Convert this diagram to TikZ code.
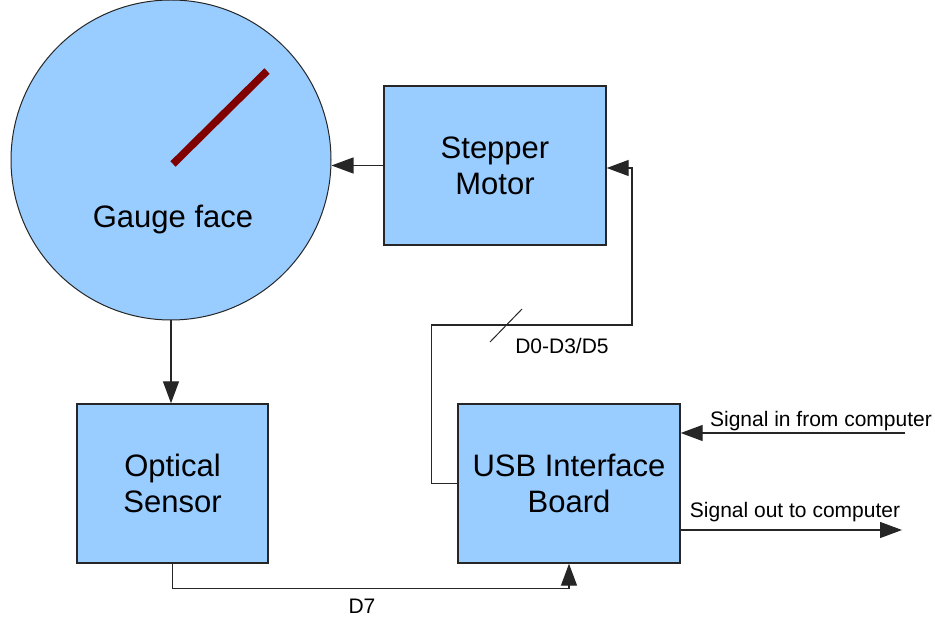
\documentclass[tikz,border=0pt]{standalone}
\usepackage{fontspec}
\setmainfont{Liberation Sans}
\usetikzlibrary{arrows.meta,calc}
\definecolor{boxblue}{HTML}{99CCFF}
\definecolor{needle}{HTML}{800000}
\tikzset{
  block/.style={draw=black!85, line width=1.4pt, fill=boxblue, rectangle,
    inner sep=0pt, align=center, font=\fontsize{31}{36}\selectfont},
  wire/.style={draw=black!85, line width=1.3pt},
  arr/.style={wire, -{Triangle[length=22pt,width=16pt]}},
  lbl/.style={font=\fontsize{21}{24}\selectfont, inner sep=0pt}
}
\begin{document}
\begin{tikzpicture}[x=1pt,y=-1pt]
  \useasboundingbox (0,0) rectangle (935,617);

  % gauge dial with needle
  \node[draw=black!85, line width=1pt, fill=boxblue, circle, minimum size=320pt, inner sep=0pt] (gauge) at (171,160) {};
  \draw[needle, line width=7.5pt] (173,164) -- (267,71);
  \node[font=\fontsize{31}{36}\selectfont, inner sep=0pt] (gaugetxt) at (173,220) {Gauge face};

  % blocks
  \node[block, minimum width=222pt, minimum height=159pt] (stepper) at (495,165.5) {Stepper\\Motor};
  \node[block, minimum width=191pt, minimum height=159pt] (optical) at (172.5,483.5) {Optical\\Sensor};
  \node[block, minimum width=222pt, minimum height=159pt] (usb) at (569,483.5) {USB Interface\\Board};

  % stepper drives the gauge
  \draw[arr] (stepper.west) -- (stepper.west -| gauge.east);

  % gauge seen by the optical sensor
  \draw[arr] (gauge.south) -- (gauge.south |- optical.north);

  % data bus from the USB board to the stepper
  \coordinate (busR) at (632,325);
  \draw[arr] (usb.west) -- ++(-26,0) |- (busR) |- ($(stepper.east)+(0,2.5)$);
  \coordinate (slash) at (506,325.5);
  \draw[wire, line width=1pt] ($(slash)+(-16,16.5)$) -- ($(slash)+(16,-16.5)$);
  \node[lbl] (buslbl) at (562,346) {D0-D3/D5};

  % sensor output D7
  \draw[arr] (optical.south) -- ++(0,25) -| (usb.south);
  \node[lbl] (d7lbl) at (362,606.5) {D7};

  % computer signals
  \coordinate (sin) at (905,433);
  \draw[arr] (sin) -- (sin -| usb.east);
  \node[lbl] (sinlbl) at (821,421) {Signal in from computer};
  \coordinate (sout) at (902,530);
  \draw[arr] (sout -| usb.east) -- (sout);
  \node[lbl] (soutlbl) at (795,512) {Signal out to computer};
\end{tikzpicture}
\end{document}
